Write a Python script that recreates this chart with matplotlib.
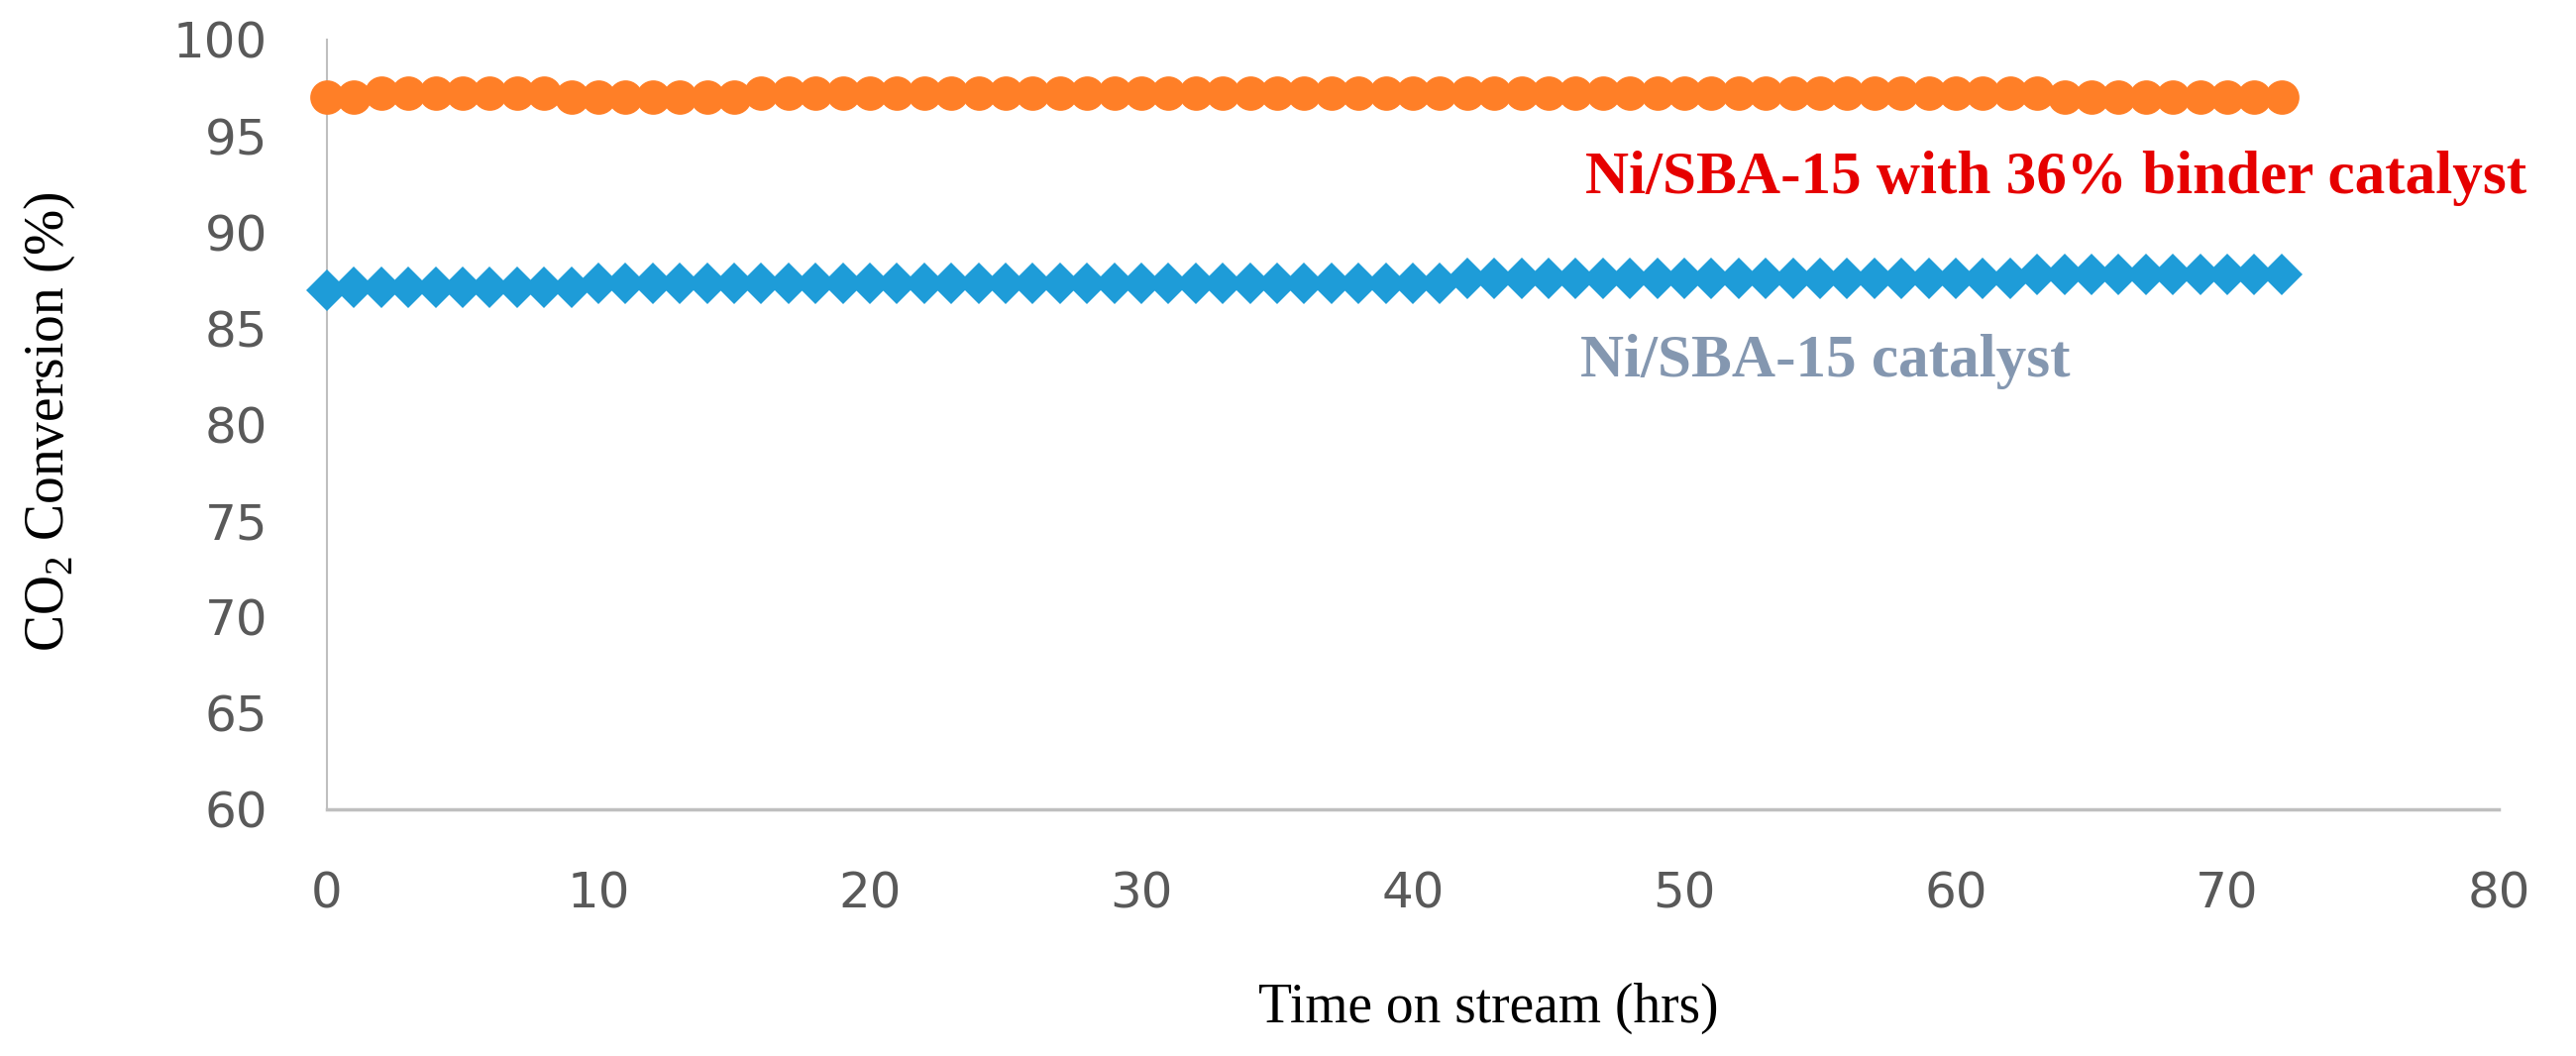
import matplotlib
matplotlib.use("Agg")
import matplotlib.pyplot as plt

# CO2 conversion vs time on stream
hours = list(range(0, 73))

# Ni/SBA-15 with 36% binder: ~97.0 / 97.2 plateaus
binder_conv = ([97.0] * 2 + [97.2] * 7 + [97.0] * 7 + [97.2] * 48 + [97.0] * 9)

# Ni/SBA-15: slow creep from 87.0 to 87.8
plain_conv = ([87.0] * 1 + [87.15] * 9 + [87.35] * 32 + [87.6] * 21 + [87.8] * 10)

x_ticks = [0, 10, 20, 30, 40, 50, 60, 70, 80]
y_ticks = [60, 65, 70, 75, 80, 85, 90, 95, 100]

label_binder = "Ni/SBA-15 with 36% binder catalyst"
label_plain = "Ni/SBA-15 catalyst"

plt.rcParams['mathtext.fontset'] = 'custom'
plt.rcParams['mathtext.rm'] = 'Liberation Serif'

fig = plt.figure(figsize=(26, 10.66), dpi=100)
ax = fig.add_axes([0.1269, 0.2336, 0.8431, 0.7289])

ax.plot(hours, binder_conv, linestyle='none', marker='o', markersize=25,
        color='#FF7F27', markeredgewidth=0, clip_on=False, zorder=3)
ax.plot(hours, plain_conv, linestyle='none', marker='D', markersize=21.5,
        color='#1E9CD8', markeredgewidth=0, clip_on=False, zorder=3)

ax.set_xlim(0, 80)
ax.set_ylim(60, 100)
ax.set_xticks(x_ticks)
ax.set_yticks(y_ticks)

for side in ['top', 'right']:
    ax.spines[side].set_visible(False)
ax.spines['left'].set_color('#BFBFBF')
ax.spines['left'].set_linewidth(1.5)
ax.spines['bottom'].set_color('#BFBFBF')
ax.spines['bottom'].set_linewidth(2.5)

ax.tick_params(axis='both', length=0, labelsize=36, labelcolor='#595959')
ax.tick_params(axis='x', pad=44)
ax.tick_params(axis='y', pad=43)
for lab in ax.get_xticklabels() + ax.get_yticklabels():
    lab.set_fontfamily('DejaVu Sans')

# axis titles (placed to match the original layout)
fig.text(0.578, 0.0319, "Time on stream (hrs)", ha='center', va='baseline',
         fontsize=40, family='Liberation Serif', color='black')
fig.text(0.0192, 0.601, r"CO$_\mathregular{2}$ Conversion (%)", ha='center', va='center',
         rotation=90, fontsize=40, family='Liberation Serif', color='black')

# series annotations
fig.text(0.6154, 0.8171, label_binder, ha='left', va='baseline', fontsize=44,
         fontweight='bold', family='Liberation Serif', color='#E60000')
fig.text(0.6135, 0.6435, label_plain, ha='left', va='baseline', fontsize=44,
         fontweight='bold', family='Liberation Serif', color='#8497B0')

fig.savefig('out.png', dpi=100)
